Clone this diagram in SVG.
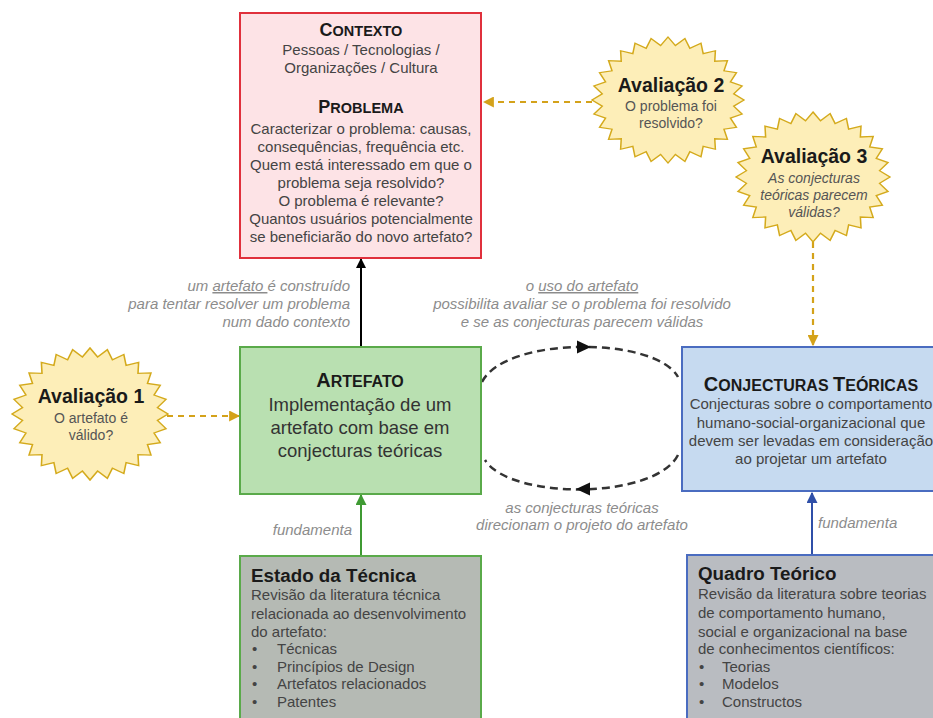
<svg xmlns="http://www.w3.org/2000/svg" width="933" height="718" viewBox="0 0 933 718">
<style>
text{font-family:"Liberation Sans",Arial,sans-serif}
.ttl{font-weight:bold;fill:#1a1a1a}
.bd{fill:#444;font-size:15px}
.lab{fill:#8c8c8c;font-size:15px;font-style:italic}
.star{fill:#fdeeb8;stroke:#d4aa1c;stroke-width:2;vector-effect:non-scaling-stroke}
.sttl{font-weight:bold;fill:#1a1a1a;font-size:19.5px}
.sbd{fill:#555;font-size:14px}
.gold{fill:none;stroke:#d4a21a;stroke-width:2.2;stroke-dasharray:6 5}
.cyc{fill:none;stroke:#333;stroke-width:2.5;stroke-dasharray:8 5}
</style>
<defs>
<path id="star" d="M0,-100 L9.74,-86.45 22.25,-97.49 28.73,-82.12 43.39,-90.10 46.29,-73.66 62.35,-78.18 61.52,-61.52 78.18,-62.35 73.66,-46.29 90.10,-43.39 82.12,-28.73 97.49,-22.25 86.45,-9.74 100,0 86.45,9.74 97.49,22.25 82.12,28.73 90.10,43.39 73.66,46.29 78.18,62.35 61.52,61.52 62.35,78.18 46.29,73.66 43.39,90.10 28.73,82.12 22.25,97.49 9.74,86.45 0,100 -9.74,86.45 -22.25,97.49 -28.73,82.12 -43.39,90.10 -46.29,73.66 -62.35,78.18 -61.52,61.52 -78.18,62.35 -73.66,46.29 -90.10,43.39 -82.12,28.73 -97.49,22.25 -86.45,9.74 -100,0 -86.45,-9.74 -97.49,-22.25 -82.12,-28.73 -90.10,-43.39 -73.66,-46.29 -78.18,-62.35 -61.52,-61.52 -62.35,-78.18 -46.29,-73.66 -43.39,-90.10 -28.73,-82.12 -22.25,-97.49 -9.74,-86.45 Z"/>
<marker id="aBlack" viewBox="0 0 10 10" refX="9" refY="5" markerWidth="10" markerHeight="10" markerUnits="userSpaceOnUse" orient="auto"><path d="M0,0 L10,5 L0,10 Z" fill="#000"/></marker>
<marker id="aGreen" viewBox="0 0 10 10" refX="9" refY="5" markerWidth="11" markerHeight="11" markerUnits="userSpaceOnUse" orient="auto"><path d="M0,0 L10,5 L0,10 Z" fill="#3f9a33"/></marker>
<marker id="aBlue" viewBox="0 0 10 10" refX="9" refY="5" markerWidth="11" markerHeight="11" markerUnits="userSpaceOnUse" orient="auto"><path d="M0,0 L10,5 L0,10 Z" fill="#2f4fa8"/></marker>
<marker id="aGold" viewBox="0 0 10 10" refX="9" refY="5" markerWidth="11" markerHeight="11" markerUnits="userSpaceOnUse" orient="auto"><path d="M0,0 L10,5 L0,10 Z" fill="#d4a21a"/></marker>
</defs>
<rect width="933" height="718" fill="#fff"/>

<g id="connectors">
<line x1="361" y1="347" x2="361" y2="259" stroke="#000" stroke-width="2" marker-end="url(#aBlack)"/>
<line x1="361" y1="556" x2="361" y2="495" stroke="#3f9a33" stroke-width="2" marker-end="url(#aGreen)"/>
<line x1="812" y1="555" x2="812" y2="493" stroke="#2f4fa8" stroke-width="2" marker-end="url(#aBlue)"/>
<line x1="592" y1="102" x2="484" y2="102" class="gold" marker-end="url(#aGold)"/>
<line x1="167" y1="416" x2="239" y2="416" class="gold" marker-end="url(#aGold)"/>
<line x1="813" y1="242" x2="813" y2="345" class="gold" marker-end="url(#aGold)"/>
<path d="M482,382 C505,336 655,336 678,377" class="cyc"/>
<path d="M591,347 L577,340.5 L577,353.5 Z" fill="#111"/>
<path d="M678,455 C655,500 510,500 485,460" class="cyc"/>
<path d="M576,489 L590,482.5 L590,495.5 Z" fill="#111"/>
<text class="lab" text-anchor="end"><tspan x="350" y="291">um <tspan text-decoration="underline">artefato </tspan>é construído</tspan><tspan x="350" y="309">para tentar resolver um problema</tspan><tspan x="350" y="327">num dado contexto</tspan></text>
<text class="lab" text-anchor="middle"><tspan x="582" y="291">o <tspan text-decoration="underline">uso do artefato</tspan></tspan><tspan x="582" y="309">possibilita avaliar se o problema foi resolvido</tspan><tspan x="582" y="327">e se as conjecturas parecem válidas</tspan></text>
<text class="lab" text-anchor="middle"><tspan x="582" y="513">as conjecturas teóricas</tspan><tspan x="582" y="530">direcionam o projeto do artefato</tspan></text>
<text class="lab" x="352" y="535" text-anchor="end" font-size="14">fundamenta</text>
<text class="lab" x="818" y="528" font-size="14">fundamenta</text>
</g>

<g id="contexto">
<rect x="240" y="13" width="241" height="245" fill="#fde3e6" stroke="#e0303c" stroke-width="2"/>
<text class="ttl" x="361" y="36" text-anchor="middle"><tspan font-size="18">C</tspan><tspan font-size="14.5">ONTEXTO</tspan></text>
<text class="bd" text-anchor="middle"><tspan x="361" y="55">Pessoas / Tecnologias /</tspan><tspan x="361" y="73">Organizações / Cultura</tspan></text>
<text class="ttl" x="361" y="113" text-anchor="middle"><tspan font-size="18">P</tspan><tspan font-size="14.5">ROBLEMA</tspan></text>
<text class="bd" text-anchor="middle"><tspan x="361" y="134">Caracterizar o problema: causas,</tspan><tspan x="361" y="152">consequências, frequência etc.</tspan><tspan x="361" y="170">Quem está interessado em que o</tspan><tspan x="361" y="188">problema seja resolvido?</tspan><tspan x="361" y="206">O problema é relevante?</tspan><tspan x="361" y="224">Quantos usuários potencialmente</tspan><tspan x="361" y="242">se beneficiarão do novo artefato?</tspan></text>
</g>

<g id="avaliacao2">
<use href="#star" class="star" transform="translate(668,100) scale(0.76,0.63)"/>
<text class="sttl" x="671" y="92" text-anchor="middle">Avaliação 2</text>
<text class="sbd" text-anchor="middle"><tspan x="671" y="111">O problema foi</tspan><tspan x="671" y="128">resolvido?</tspan></text>
</g>

<g id="avaliacao3">
<use href="#star" class="star" transform="translate(813,177) scale(0.77,0.65)"/>
<text class="sttl" x="814" y="163" text-anchor="middle">Avaliação 3</text>
<text class="sbd" font-style="italic" text-anchor="middle"><tspan x="814" y="183">As conjecturas</tspan><tspan x="814" y="200">teóricas parecem</tspan><tspan x="814" y="217">válidas?</tspan></text>
</g>

<g id="avaliacao1">
<use href="#star" class="star" transform="translate(90,414) scale(0.78,0.66)"/>
<text class="sttl" x="91" y="403" text-anchor="middle">Avaliação 1</text>
<text class="sbd" text-anchor="middle"><tspan x="91" y="423">O artefato é</tspan><tspan x="91" y="440">válido?</tspan></text>
</g>

<g id="artefato">
<rect x="240" y="347" width="241" height="147" fill="#b9e0b1" stroke="#5aaa4a" stroke-width="2"/>
<text class="ttl" x="360" y="387" text-anchor="middle"><tspan font-size="20">A</tspan><tspan font-size="16">RTEFATO</tspan></text>
<text fill="#333" font-size="18.5" text-anchor="middle"><tspan x="360" y="411">Implementação de um</tspan><tspan x="360" y="434">artefato com base em</tspan><tspan x="360" y="457">conjecturas teóricas</tspan></text>
</g>

<g id="conjecturas">
<rect x="682" y="347" width="262" height="144" fill="#c6daf0" stroke="#4a6cc0" stroke-width="2"/>
<text class="ttl" x="811" y="391" text-anchor="middle"><tspan font-size="20">C</tspan><tspan font-size="16">ONJECTURAS </tspan><tspan font-size="20">T</tspan><tspan font-size="16">EÓRICAS</tspan></text>
<text class="bd" text-anchor="middle"><tspan x="811" y="409">Conjecturas sobre o comportamento</tspan><tspan x="811" y="428">humano-social-organizacional que</tspan><tspan x="811" y="446">devem ser levadas em consideração</tspan><tspan x="811" y="464">ao projetar um artefato</tspan></text>
</g>

<g id="estado">
<rect x="240" y="556" width="241" height="175" fill="#b5bab4" stroke="#5aaa4a" stroke-width="2"/>
<text class="ttl" x="251" y="582" font-size="18.8">Estado da Técnica</text>
<text class="bd"><tspan x="251" y="600">Revisão da literatura técnica</tspan><tspan x="251" y="619">relacionada ao desenvolvimento</tspan><tspan x="251" y="637">do artefato:</tspan></text>
<text class="bd"><tspan x="252" y="654">•</tspan><tspan x="277" y="654">Técnicas</tspan><tspan x="252" y="672">•</tspan><tspan x="277" y="672">Princípios de Design</tspan><tspan x="252" y="689">•</tspan><tspan x="277" y="689">Artefatos relacionados</tspan><tspan x="252" y="707">•</tspan><tspan x="277" y="707">Patentes</tspan></text>
</g>

<g id="quadro">
<rect x="687" y="555" width="262" height="176" fill="#b9bcc1" stroke="#4a6cc0" stroke-width="2"/>
<text class="ttl" x="698" y="580" font-size="18.8">Quadro Teórico</text>
<text class="bd"><tspan x="698" y="599">Revisão da literatura sobre teorias</tspan><tspan x="698" y="618">de comportamento  humano,</tspan><tspan x="698" y="637">social e organizacional na base</tspan><tspan x="698" y="654">de conhecimentos científicos:</tspan></text>
<text class="bd"><tspan x="699" y="672">•</tspan><tspan x="722" y="672">Teorias</tspan><tspan x="699" y="689">•</tspan><tspan x="722" y="689">Modelos</tspan><tspan x="699" y="707">•</tspan><tspan x="722" y="707">Constructos</tspan></text>
</g>
</svg>
